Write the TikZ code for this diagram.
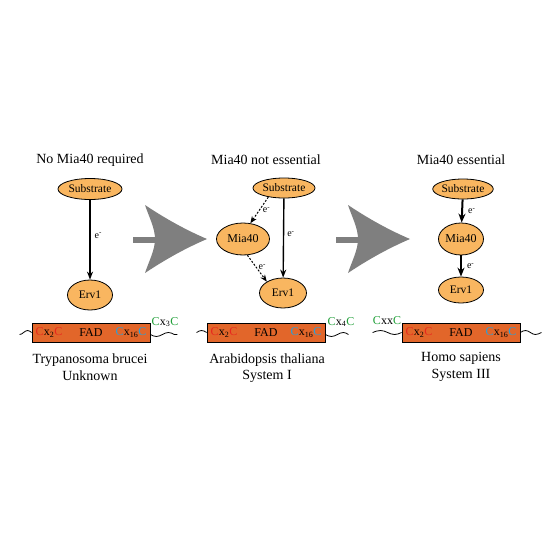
\documentclass[tikz,border=0pt]{standalone}
\usepackage{fontspec}
\setmainfont{Liberation Serif}
\usetikzlibrary{shapes.geometric,arrows.meta,positioning}
\definecolor{ellfill}{HTML}{F9B660}
\definecolor{barfill}{HTML}{E2662A}
\definecolor{cred}{HTML}{E8281E}
\definecolor{cblue}{HTML}{2A9FD8}
\definecolor{cgreen}{HTML}{22A03A}
\definecolor{bigarrow}{HTML}{7F7F7F}
\newcommand{\cys}[2]{\textcolor{#1}{C}x\textsubscript{#2}\textcolor{#1}{C}}
\begin{document}
\begin{tikzpicture}[x=1pt,y=-1pt,>={Stealth[length=8pt,width=6pt]},
                    thick,main node/.style={ellipse,draw,line width=0.8pt,fill=ellfill,inner sep=0pt,
                    font=\fontsize{11.5}{12}\selectfont},
                    title node/.style={font=\fontsize{14}{16}\selectfont,inner sep=0pt},
                    bar node/.style={draw,line width=0.8pt,fill=barfill,minimum width=118pt,minimum height=19pt,inner sep=0pt},
                    motif/.style={font=\fontsize{12}{12}\selectfont,inner sep=0pt},
                    elabel/.style={font=\fontsize{10}{10}\selectfont,inner sep=0pt},
                    wave/.style={line width=0.8pt},
                    solid arrow/.style={line width=1.4pt},
                    dots/.style={line width=1pt,dash pattern=on 2pt off 1.6pt,>={Stealth[length=7pt,width=5.5pt]}}]
        \useasboundingbox (0,0) rectangle (550,550);

        % Big grey arrows
        \foreach \dx in {0,203} {
            \fill[bigarrow,shift={(\dx,0)}] (133,237) rectangle (157,243);
            \fill[bigarrow,shift={(\dx,0)}] (207,239) .. controls (186,230) and (166,219) .. (145,205)
                .. controls (149,217) and (155,228) .. (155,239)
                .. controls (155,250) and (149,261) .. (145,273)
                .. controls (166,259) and (186,248) .. (207,239) -- cycle;
        }

        % Titles
        \node[title node] (t1) at (90,160) {No Mia40 required};
        \node[title node] (t2) at (266,160) {Mia40 not essential};
        \node[title node] (t3) at (461,160) {Mia40 essential};

        % Define vertices
        \node[main node,minimum width=64pt,minimum height=21pt] (S1) at (90,189) {Substrate};
        \node[main node,minimum width=45pt,minimum height=30pt] (E1) at (90,295) {Erv1};

        \node[main node,minimum width=62pt,minimum height=20pt] (S2) at (284,188) {Substrate};
        \node[main node,minimum width=53pt,minimum height=32pt,font=\fontsize{12}{12}\selectfont] (M2) at (243,239) {Mia40};
        \node[main node,minimum width=47pt,minimum height=30pt] (E2) at (283,293) {Erv1};

        \node[main node,minimum width=57pt,minimum height=20pt] (S3) at (463,189) {Substrate};
        \node[main node,minimum width=45pt,minimum height=32pt,font=\fontsize{12}{12}\selectfont] (M3) at (461,239) {Mia40};
        \node[main node,minimum width=45pt,minimum height=26pt] (E3) at (461,290) {Erv1};

        % Draw edges
        \path[->,every node/.style={elabel}]
            (S1) edge[solid arrow] node[right=4pt,pos=0.45] {e\textsuperscript{-}} (E1)
            (S2) edge[solid arrow] node[right=3pt,pos=0.45] {e\textsuperscript{-}} (E2)
            (S2.210) edge[dots] node[right=3pt,pos=0.5] {e\textsuperscript{-}} (M2.65)
            (M2.285) edge[dots] node[right=2pt,pos=0.45] {e\textsuperscript{-}} (E2.145)
            (S3) edge[line width=2pt,>={Stealth[length=9pt,width=7pt]}] node[right=5pt] {e\textsuperscript{-}} (M3)
            (M3) edge[line width=2pt,>={Stealth[length=9pt,width=7pt]}] node[right=5pt] {e\textsuperscript{-}} (E3);

        % Erv1 domains
        \node[bar node] (B1) at (91,332.5) {};
        \node[bar node] (B2) at (266,332.5) {};
        \node[bar node] (B3) at (461,332.5) {};
        \foreach \b in {B1,B2,B3} {
            \node[motif] at ([xshift=-42pt]\b.center) {\cys{cred}{2}};
            \node[motif] at (\b.center) {FAD};
            \node[motif] at ([xshift=40pt]\b.center) {\cys{cblue}{16}};
        }

        % Tails
        \draw[wave] (B1.west) sin ++(-4,-2) cos ++(-4,2) sin ++(-4,2);
        \draw[wave] ([yshift=-2pt]B1.east) sin ++(6,2) cos ++(6,-2) sin ++(6,-2) cos ++(6,2) -- ++(3,0);
        \draw[wave] (B2.west) sin ++(-5,-2) cos ++(-5,2);
        \draw[wave] ([yshift=-2pt]B2.east) sin ++(6,2) cos ++(6,-2) sin ++(6,-2) cos ++(5,2);
        \draw[wave] (B3.west) sin ++(-7,2) cos ++(-7,-2) sin ++(-7,-2) cos ++(-8,2);
        \draw[wave] (B3.east) sin ++(5,-2) cos ++(5,2) sin ++(5,2) cos ++(6,-2);

        \node[motif] (g1) at (165,322) {\cys{cgreen}{3}};
        \node[motif] (g2) at (341,322) {\cys{cgreen}{4}};
        \node[motif] (g3) at (387,321) {\textcolor{cgreen}{C}xx\textcolor{cgreen}{C}};

        % Species
        \node[title node] (n1) at (90,360) {Trypanosoma brucei};
        \node[title node] (u1) at (90,376) {Unknown};
        \node[title node] (n2) at (267,360) {Arabidopsis thaliana};
        \node[title node] (u2) at (267,376) {System I};
        \node[title node] (n3) at (461,358) {Homo sapiens};
        \node[title node] (u3) at (461,375) {System III};

        \end{tikzpicture}
\end{document}
